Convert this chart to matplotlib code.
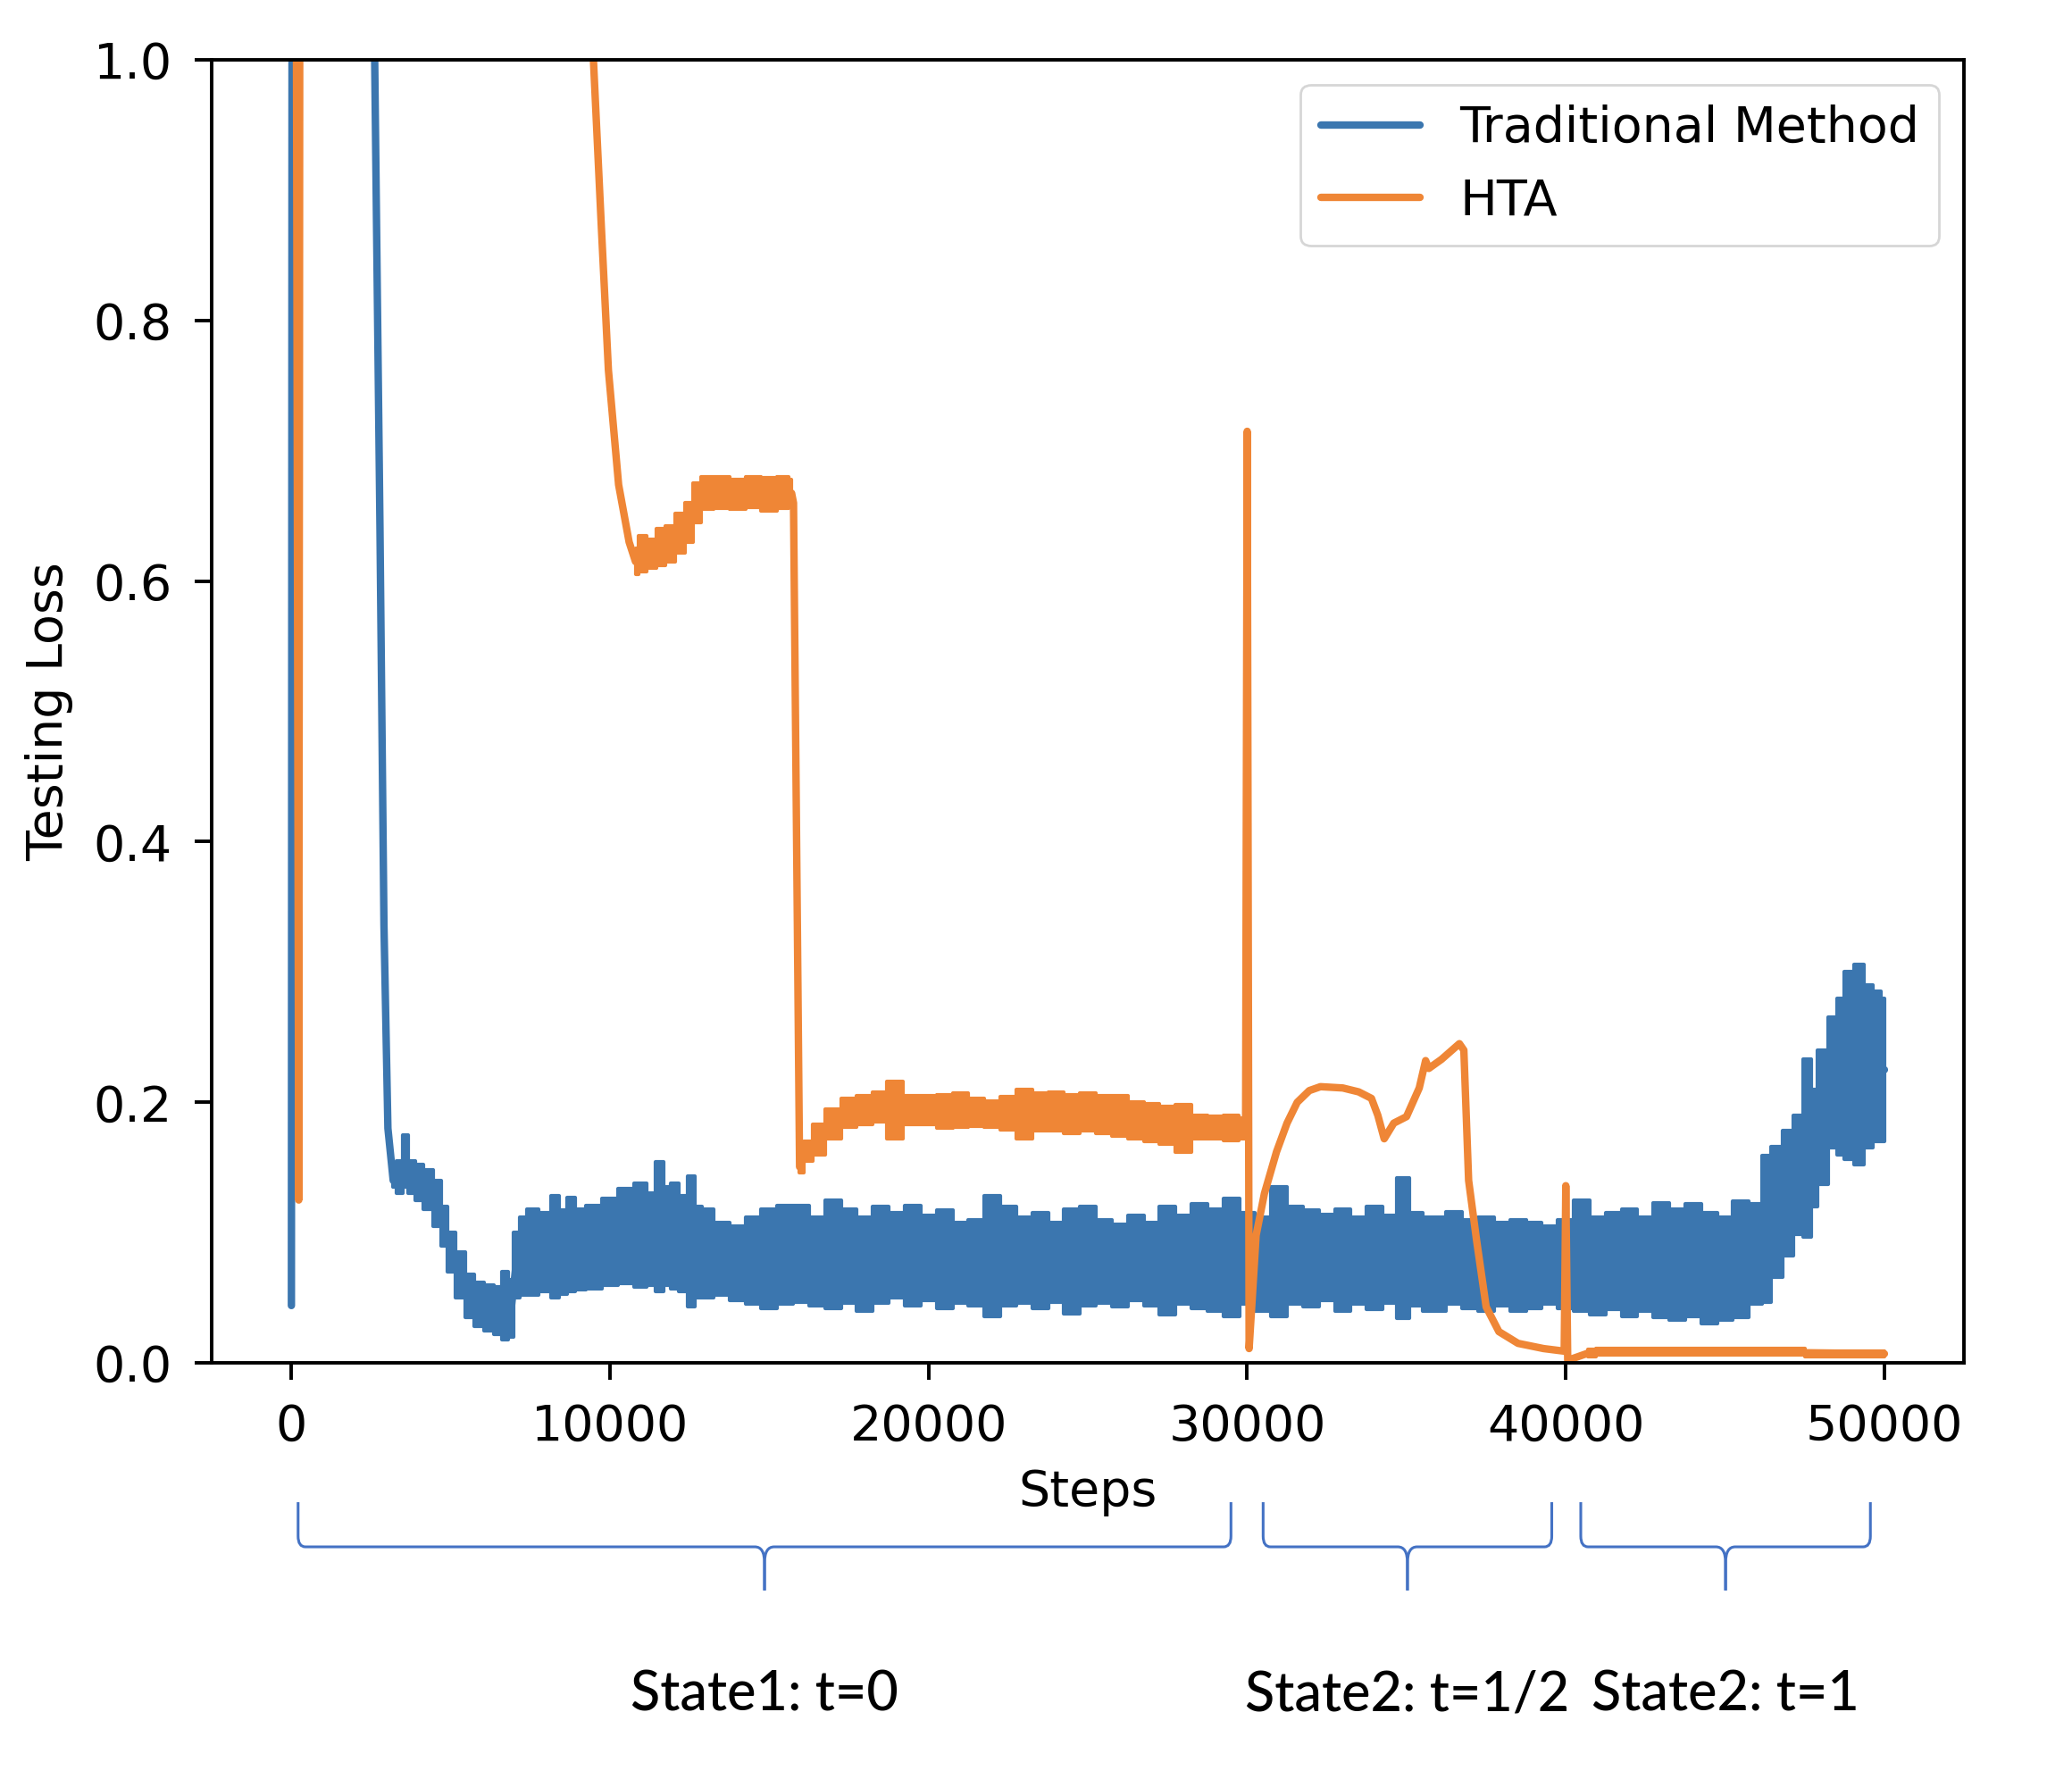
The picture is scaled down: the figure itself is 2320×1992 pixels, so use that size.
import matplotlib
matplotlib.use("Agg")
import matplotlib.pyplot as plt
import matplotlib.transforms as mtransforms
from matplotlib.path import Path
from matplotlib.patches import PathPatch
import numpy as np

# Traditional Method: steps and low/high envelope of the noisy loss
blue_steps = [0, 60, 2500, 2614, 2780, 2905, 3029, 3195, 3400, 3600, 3750, 4000, 4300,
              4600, 4800, 5000, 5300, 5600, 5900, 6200, 6500, 6700, 6900, 7050, 7300,
              7500, 8000, 8300, 8500, 8800, 9000, 9500, 10000, 10500, 11000, 11300,
              11550, 11800, 12000, 12300, 12550, 12800, 13000, 13500, 14000, 14500,
              15000, 15500, 16000, 16500, 17000, 17500, 18000, 18500, 19000, 19500,
              20000, 20500, 21000, 21500, 22000, 22500, 23000, 23500, 24000, 24500,
              25000, 25500, 26000, 26500, 27000, 27500, 28000, 28500, 29000, 29500,
              30000, 30500, 31000, 31500, 32000, 32500, 33000, 33500, 34000, 34500,
              34900, 35300, 35700, 36000, 36500, 37000, 37500, 38000, 38500, 39000,
              39500, 40000, 40500, 41000, 41500, 42000, 42500, 43000, 43500, 44000,
              44500, 45000, 45500, 46000, 46300, 46600, 47000, 47300, 47600, 47800,
              48000, 48450, 48600, 48900, 49200, 49500, 49800, 50000]
blue_low = [0.044, 3.0, 1.5, 1.0, 0.64, 0.336, 0.18, 0.135, 0.13, 0.135, 0.13, 0.125, 0.118,
            0.105, 0.09, 0.07, 0.05, 0.035, 0.028, 0.025, 0.022, 0.018, 0.02, 0.05, 0.052,
            0.052, 0.055, 0.05, 0.053, 0.055, 0.056, 0.057, 0.06, 0.061, 0.058, 0.06,
            0.055, 0.06, 0.057, 0.055, 0.043, 0.05, 0.05, 0.052, 0.048, 0.045,
            0.042, 0.045, 0.047, 0.044, 0.042, 0.046, 0.04, 0.046, 0.05, 0.044,
            0.048, 0.042, 0.046, 0.044, 0.036, 0.044, 0.046, 0.042, 0.047, 0.038,
            0.044, 0.046, 0.043, 0.048, 0.044, 0.037, 0.045, 0.042, 0.04, 0.036,
            0.045, 0.04, 0.036, 0.045, 0.043, 0.048, 0.04, 0.045, 0.041, 0.046,
            0.034, 0.044, 0.04, 0.04, 0.045, 0.042, 0.04, 0.044, 0.04, 0.042,
            0.045, 0.042, 0.04, 0.037, 0.041, 0.036, 0.04, 0.035, 0.033, 0.036,
            0.03, 0.033, 0.035, 0.045, 0.047, 0.066, 0.082, 0.099, 0.097, 0.12,
            0.137, 0.165, 0.16, 0.156, 0.152, 0.165, 0.17, 0.17]
blue_high = [0.044, 3.0, 1.5, 1.0, 0.64, 0.336, 0.18, 0.145, 0.155, 0.175, 0.155, 0.152, 0.148,
             0.14, 0.12, 0.10, 0.085, 0.068, 0.062, 0.06, 0.058, 0.07, 0.064, 0.10, 0.112,
             0.118, 0.115, 0.128, 0.117, 0.127, 0.118, 0.121, 0.126, 0.134, 0.138, 0.13,
             0.154, 0.135, 0.138, 0.128, 0.143, 0.12, 0.118, 0.108, 0.105, 0.112,
             0.118, 0.121, 0.121, 0.112, 0.125, 0.118, 0.112, 0.12, 0.115, 0.121,
             0.113, 0.117, 0.108, 0.11, 0.128, 0.12, 0.112, 0.115, 0.108, 0.118,
             0.12, 0.11, 0.106, 0.113, 0.108, 0.12, 0.113, 0.122, 0.118, 0.126,
             0.115, 0.112, 0.135, 0.12, 0.117, 0.114, 0.118, 0.112, 0.12, 0.113,
             0.142, 0.115, 0.112, 0.112, 0.116, 0.11, 0.112, 0.108, 0.11, 0.108,
             0.105, 0.11, 0.125, 0.112, 0.115, 0.118, 0.112, 0.123, 0.118, 0.122,
             0.115, 0.112, 0.124, 0.122, 0.159, 0.166, 0.178, 0.19, 0.233, 0.21,
             0.24, 0.265, 0.28, 0.30, 0.306, 0.29, 0.285, 0.28]

# HTA: steps and low/high envelope
hta_steps = [0, 230, 330, 9300, 9480, 9730, 9950, 10270, 10600, 10800, 11000, 11300,
             11600, 11900, 12200, 12500, 12700, 13000, 13500, 14000, 14500, 15000,
             15500, 15700, 15760, 15950, 16200, 16500, 17000, 17500, 18000, 18500,
             18900, 19500, 20000, 20500, 21000, 21500, 22000, 22500, 23000, 23500,
             24000, 24500, 25000, 25500, 26000, 26500, 27000, 27500, 28000, 28500,
             29000, 29500, 29950, 30000, 30060, 30280, 30540, 30920, 31250, 31570,
             31950, 32300, 33000, 33500, 33900, 34100, 34300, 34600, 35000, 35400,
             35600, 35700, 36100, 36660, 36800, 36950, 37200, 37500, 37900, 38500,
             39300, 39950, 40000, 40060, 40700, 41200, 45000, 50000]
hta_low = [3.0, 0.125, 3.0, 1.5, 1.0, 0.871, 0.762, 0.674, 0.63, 0.605, 0.607, 0.61,
           0.612, 0.615, 0.622, 0.63, 0.645, 0.655, 0.656, 0.655, 0.657, 0.654,
           0.656, 0.657, 0.66, 0.146, 0.155, 0.16, 0.172, 0.181, 0.183, 0.185,
           0.172, 0.183, 0.183, 0.18, 0.181, 0.182, 0.181, 0.179, 0.172, 0.178,
           0.178, 0.176, 0.178, 0.176, 0.174, 0.172, 0.17, 0.168, 0.162, 0.172,
           0.172, 0.171, 0.172, 0.715, 0.011, 0.098, 0.13, 0.162, 0.184, 0.2,
           0.209, 0.212, 0.211, 0.208, 0.203, 0.19, 0.172, 0.184, 0.189, 0.211,
           0.232, 0.226, 0.233, 0.245, 0.24, 0.14, 0.094, 0.043, 0.024, 0.015,
           0.011, 0.009, 0.136, 0.002, 0.005, 0.006, 0.006, 0.005]
hta_high = [3.0, 0.125, 3.0, 1.5, 1.0, 0.871, 0.762, 0.674, 0.63, 0.625, 0.635, 0.632,
            0.64, 0.642, 0.652, 0.66, 0.675, 0.68, 0.68, 0.678, 0.68, 0.679,
            0.68, 0.678, 0.66, 0.155, 0.17, 0.183, 0.195, 0.203, 0.205, 0.208,
            0.216, 0.205, 0.205, 0.206, 0.207, 0.203, 0.201, 0.204, 0.21, 0.207,
            0.208, 0.206, 0.207, 0.205, 0.205, 0.2, 0.199, 0.197, 0.198, 0.19,
            0.189, 0.19, 0.188, 0.715, 0.011, 0.098, 0.13, 0.162, 0.184, 0.2,
            0.209, 0.212, 0.211, 0.208, 0.203, 0.19, 0.172, 0.184, 0.189, 0.211,
            0.232, 0.226, 0.233, 0.245, 0.24, 0.14, 0.094, 0.043, 0.024, 0.015,
            0.011, 0.009, 0.136, 0.002, 0.01, 0.011, 0.011, 0.009]

series_labels = ["Traditional Method", "HTA"]
x_ticks = [0, 10000, 20000, 30000, 40000, 50000]
y_ticks = [0.0, 0.2, 0.4, 0.6, 0.8, 1.0]

# stage braces under the x axis: (start step, end step)
state_spans = [(210, 29490), (30500, 39560), (40470, 49560)]
state_labels = ["State1: t=0", "State2: t=1/2", "State2: t=1"]

blue = "#3b76af"
orange = "#ef8636"
brace_color = "#4472c4"
fs = 20

plt.rcParams["font.family"] = "DejaVu Sans"

fig = plt.figure(figsize=(11.6, 9.96), dpi=200)
ax = fig.add_axes([0.1022, 0.2339, 0.8457, 0.7324])


def draw_series(steps, low, high, color, label):
    steps = np.asarray(steps, dtype=float)
    low = np.asarray(low)
    high = np.asarray(high)
    noisy = (high - low) > 0.0005
    # noisy band only where the loss jitters, blocky edges like the raw curve
    ax.fill_between(steps, low, high, where=noisy, step="mid", color=color,
                    linewidth=1.5, edgecolor=color)
    ax.plot(steps, (low + high) / 2, color=color, linewidth=3.0, label=label,
            solid_joinstyle="round", solid_capstyle="round")


draw_series(blue_steps, blue_low, blue_high, blue, series_labels[0])
draw_series(hta_steps, hta_low, hta_high, orange, series_labels[1])

ax.set_xlim(-2500, 52500)
ax.set_ylim(0, 1.0)
ax.set_xticks(x_ticks)
ax.set_yticks(y_ticks)
ax.set_xticklabels([str(t) for t in x_ticks])
ax.set_yticklabels([f"{t:.1f}" for t in y_ticks])
ax.tick_params(labelsize=fs, length=7, width=1.4, pad=9)
for sp in ax.spines.values():
    sp.set_linewidth(1.4)
ax.set_xlabel("Steps", fontsize=fs, labelpad=7)
ax.set_ylabel("Testing Loss", fontsize=fs, labelpad=8)

leg = ax.legend(loc="upper right", fontsize=fs, framealpha=0.8, edgecolor="#cccccc")
for line in leg.get_lines():
    line.set_linewidth(3.0)

# braces and state labels (x in data steps, y in figure fraction)
blend = mtransforms.blended_transform_factory(ax.transData, fig.transFigure)
y_top, y_line, y_tip = 0.1556, 0.1305, 0.106
dx_end, dy_end = 230, 0.006
dx_mid, dy_mid = 300, 0.009


def draw_brace(x0, x1):
    xm = (x0 + x1) / 2
    for xa, sgn in ((x0, 1), (x1, -1)):
        verts = [(xa, y_top), (xa, y_line + dy_end), (xa, y_line),
                 (xa + sgn * dx_end, y_line), (xm - sgn * dx_mid, y_line),
                 (xm, y_line), (xm, y_line - dy_mid), (xm, y_tip)]
        codes = [Path.MOVETO, Path.LINETO, Path.CURVE3, Path.CURVE3, Path.LINETO,
                 Path.CURVE3, Path.CURVE3, Path.LINETO]
        patch = PathPatch(Path(verts, codes), transform=blend, fill=False,
                          edgecolor=brace_color, linewidth=1.1, clip_on=False)
        fig.add_artist(patch)


for (x0, x1), lab in zip(state_spans, state_labels):
    draw_brace(x0, x1)
    ax.text((x0 + x1) / 2, 0.047, lab, transform=blend, ha="center", va="center",
            fontsize=22, family=["Lato", "DejaVu Sans"], fontweight="medium",
            clip_on=False)

fig.savefig("out.png", dpi=200)
